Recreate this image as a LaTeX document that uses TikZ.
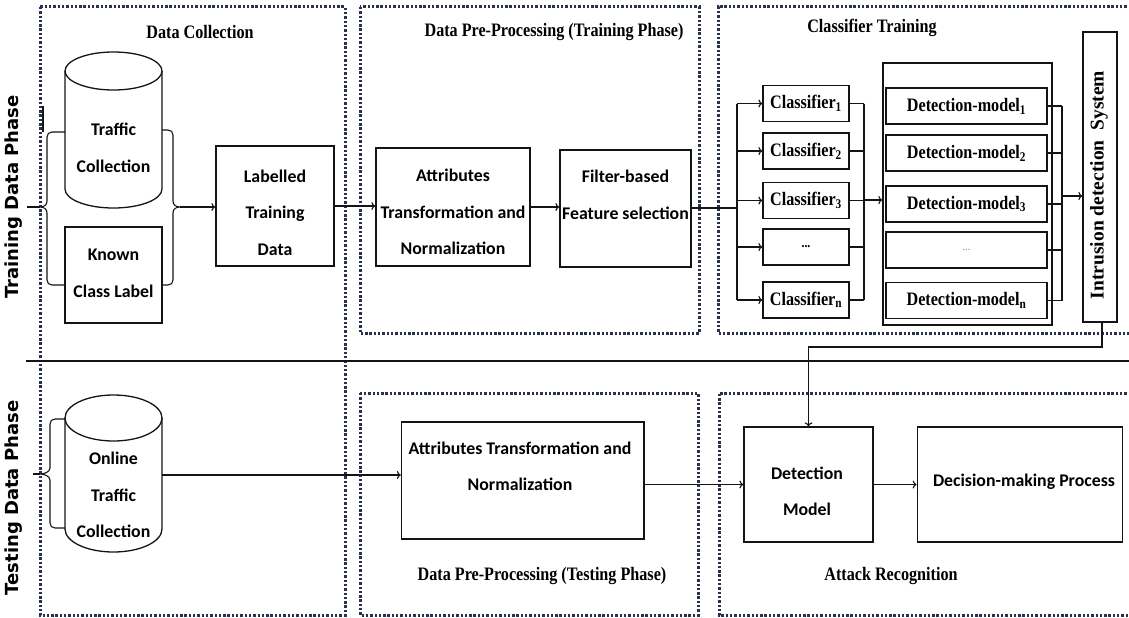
\documentclass[tikz,border=0pt]{standalone}
\usepackage{fontspec}
\usetikzlibrary{arrows.meta}
\newfontfamily\boxfont{Carlito}
\newfontfamily\headfont[FakeStretch=0.85]{Liberation Serif}
\newfontfamily\idsfont{Liberation Serif}
\newfontfamily\sidefont{DejaVu Sans}
\definecolor{dotblue}{RGB}{40,50,76}
\definecolor{ink}{RGB}{20,20,20}

\begin{document}
\begin{tikzpicture}[x=1pt,y=-1pt,
  box/.style={draw=ink, line width=1.3pt, inner sep=0pt},
  conn/.style={draw=ink, line width=1.1pt},
  arr/.style={conn, -{To[length=4pt,width=8pt]}},
  area/.style={draw=dotblue, line width=3pt, dash pattern=on 2.4pt off 1.9pt},
  boxtext/.style={font=\boxfont\bfseries\fontsize{17.8}{36.5}\selectfont, align=center, inner sep=0pt},
  headtext/.style={font=\headfont\bfseries\fontsize{19}{22}\selectfont, inner sep=0pt},
  sidetext/.style={font=\sidefont\bfseries\fontsize{18}{20}\selectfont, rotate=90, inner sep=0pt},
  clsbox/.style={box, minimum width=86, minimum height=36, font=\headfont\bfseries\fontsize{19}{22}\selectfont},
  dmbox/.style={box, minimum width=161, minimum height=36, font=\headfont\bfseries\fontsize{19}{22}\selectfont}]

\useasboundingbox (0,0) rectangle (1129,618);

% ---------- dotted stage frames ----------
\draw[area] (40,7) rectangle (345,615);
\draw[area] (360,7) rectangle (699,333);
\draw[area] (1131,7) -- (718,7) -- (718,333) -- (1131,333);
\draw[area] (360,393) rectangle (698,615);
\draw[area] (1131,393) -- (719,393) -- (719,615) -- (1131,615);

% phase separator
\coordinate (sepL) at (26,361);
\coordinate (sepR) at (1129,361);
\draw[conn] (sepL) -- (sepR);

% ---------- stage titles ----------
\node[headtext] (t-dc) at (200,32) {Data Collection};
\node[headtext] (t-ppt) at (554,32) {Data Pre-Processing (Training Phase)};
\node[headtext] (t-ct) at (872,28) {Classifier Training};
\node[headtext] (t-ppx) at (542,576) {Data Pre-Processing (Testing Phase)};
\node[headtext] (t-ar) at (891,576) {Attack Recognition};

% phase labels
\node[sidetext] (ph-train) at (14,197) {Training Data Phase};
\node[sidetext] (ph-test) at (14,498) {Testing Data Phase};

% ---------- training: data collection ----------
% traffic store
\draw[conn, line width=1.3pt] (113.5,71) ellipse [x radius=48.5, y radius=19];
\draw[conn, line width=1.3pt] (65,71) -- (65,189)
  .. controls (65,199.5) and (86.7,208) .. (113.5,208)
  .. controls (140.3,208) and (162,199.5) .. (162,189) -- (162,71);
\node[boxtext] (traffic) at (113.5,148) {Traffic\\Collection};

\node[box, minimum width=97, minimum height=96] (known) at (113.5,275) {};
\node[boxtext] (known-t) at (113.5,273.5) {Known\\Class Label};

% input brace
\coordinate (tin) at (27,207);
\coordinate (tbr) at (40,207);
\draw[conn] (43,106) -- (43,132);
\draw[conn] (65,132) -- (52,132) .. controls (49,132) and (47,134) .. (47,137) -- (47,201)
  .. controls (47,205) and (44,207) .. (tbr)
  .. controls (44,207) and (47,209) .. (47,213) -- (47,280)
  .. controls (47,283) and (49,285) .. (52,285) -- (65,285);
\draw[conn] (tin) -- (tbr);

% output brace
\coordinate (rbr) at (180,207);
\draw[conn] (162,130) -- (168,130) .. controls (171,130) and (173,132) .. (173,135) -- (173,201)
  .. controls (173,205) and (176,207) .. (rbr)
  .. controls (176,207) and (173,209) .. (173,213) -- (173,280)
  .. controls (173,283) and (171,285) .. (168,285) -- (162,285);

\node[box, minimum width=118, minimum height=120] (lab) at (275,206) {};
\node[boxtext] (lab-t) at (275,212.5) {Labelled\\Training\\Data};
\draw[arr] (rbr) -- (lab.west |- rbr);

% ---------- training: pre-processing ----------
\node[box, minimum width=154, minimum height=118] (attr) at (453,207) {};
\node[boxtext] (attr-t) at (453,212) {Attributes\\Transformation and\\Normalization};
\node[box, minimum width=131, minimum height=117] (fb) at (625.5,208.5) {};
\node[boxtext] (fb-t) at (625.5,195) {Filter-based\\Feature selection};
\draw[arr] (lab.east) -- (attr.west |- lab.east);
\draw[arr] (attr.east) -- (fb.west |- attr.east);

% ---------- training: classifiers ----------
\node[clsbox] (c1) at (806,103.5) {Classifier\textsubscript{1}};
\node[clsbox] (c2) at (806,151) {Classifier\textsubscript{2}};
\node[clsbox] (c3) at (806,200.5) {Classifier\textsubscript{3}};
\node[clsbox, font=\headfont\bfseries\fontsize{14}{16}\selectfont] (cd) at (806,247) {...};
\node[clsbox] (cn) at (806,300) {Classifier\textsubscript{n}};

\coordinate (busL) at (737,208);
\draw[conn] (fb.east |- busL) -- (busL);
\draw[conn] (busL |- c1) -- (busL |- cn);
\foreach \c in {c1,c2,c3,cd,cn} \draw[arr] (busL |- \c) -- (\c.west);

\coordinate (busR) at (864,200);
\foreach \c in {c1,c2,c3,cd,cn} \draw[conn] (\c.east) -- (busR |- \c);
\draw[conn] (busR |- c1) -- (busR |- cn);

% detection models
\node[box, minimum width=169, minimum height=262] (dmo) at (967.5,194) {};
\node[dmbox] (dm1) at (966.5,106) {Detection-model\textsubscript{1}};
\node[dmbox] (dm2) at (966.5,153) {Detection-model\textsubscript{2}};
\node[dmbox] (dm3) at (966.5,204) {Detection-model\textsubscript{3}};
\node[dmbox, text=gray, font=\headfont\fontsize{12}{14}\selectfont] (dmd) at (966.5,250) {...};
\node[dmbox] (dmn) at (966.5,300.5) {Detection-model\textsubscript{n}};
\draw[arr] (busR) -- (dmo.west |- busR);

\coordinate (busD) at (1062,196);
\foreach \d in {dm1,dm2,dm3,dmd,dmn} \draw[conn] (\d.east) -- (busD |- \d);
\draw[conn] (busD |- dm1) -- (busD |- dmn);

% intrusion detection system
\node[box, minimum width=34, minimum height=290] (ids) at (1100,177) {};
\node[font=\idsfont\bfseries\fontsize{19.5}{22}\selectfont, rotate=90, inner sep=0pt] (ids-t) at (1099,185) {Intrusion detection\ \ System};
\draw[arr] (busD) -- (ids.west |- busD);

% ---------- testing phase ----------
\draw[conn, line width=1.3pt] (113.5,418) ellipse [x radius=48.5, y radius=23];
\draw[conn, line width=1.3pt] (65,418) -- (65,529)
  .. controls (65,541.7) and (86.7,552) .. (113.5,552)
  .. controls (140.3,552) and (162,541.7) .. (162,529) -- (162,418);
\node[boxtext] (online) at (113.5,495) {Online\\Traffic\\Collection};

\coordinate (oin) at (33,474);
\coordinate (obr) at (40,474);
\draw[conn] (65,419) -- (55,419) .. controls (52,419) and (50,421) .. (50,424) -- (50,468)
  .. controls (50,472) and (44,474) .. (obr)
  .. controls (44,474) and (50,476) .. (50,480) -- (50,523)
  .. controls (50,526) and (52,528) .. (55,528) -- (65,528);
\draw[conn] (oin) -- (obr);

\node[box, minimum width=242.5, minimum height=117] (tattr) at (522.75,480.5) {};
\node[boxtext] (tattr-t) at (520,466.5) {Attributes Transformation and\\Normalization};
\coordinate (ocR) at (162,475);
\draw[arr] (ocR) -- (tattr.west |- ocR);

\node[box, minimum width=129, minimum height=115] (detm) at (808.5,484.5) {};
\node[boxtext] (detm-t) at (807,491.5) {Detection\\Model};
\node[box, minimum width=205.5, minimum height=115] (dec) at (1020,484.5) {};
\node[boxtext] (dec-t) at (1024,482) {Decision-making Process};

\draw[arr] (tattr.east |- detm.west) -- (detm.west);
\draw[arr] (detm.east) -- (dec.west);

% trained model feeds the online detector
\draw[arr] ([xshift=2pt]ids.south) -- ([xshift=2pt]ids.south |- 0,347) -| (detm.north);

\end{tikzpicture}
\end{document}
